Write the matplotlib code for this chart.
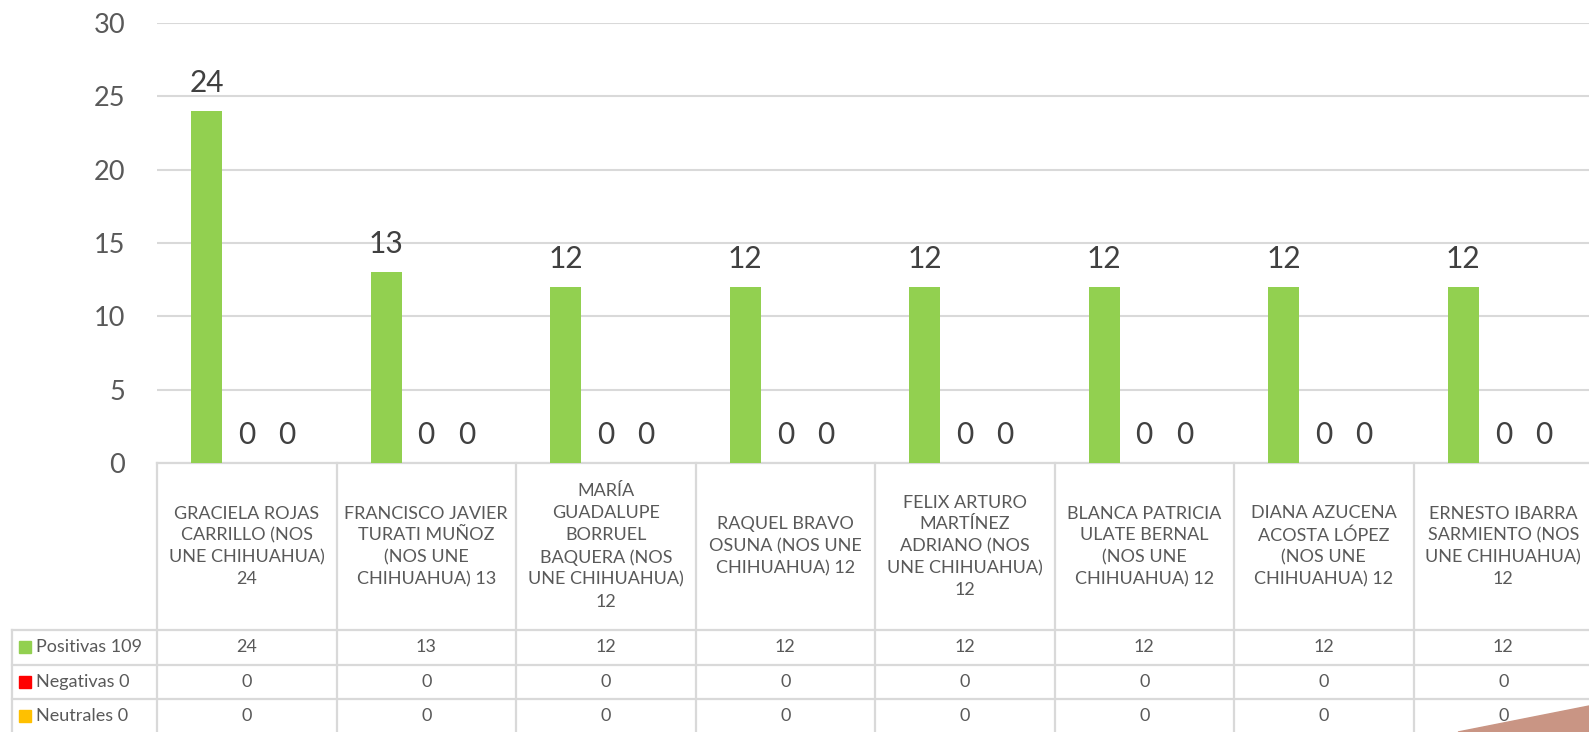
import matplotlib
matplotlib.use('Agg')
import matplotlib.pyplot as plt
from matplotlib.transforms import blended_transform_factory
from matplotlib.patches import Polygon, Rectangle

plt.rcParams['font.family'] = ['Lato', 'DejaVu Sans']

categorias = [
    'GRACIELA ROJAS\nCARRILLO (NOS\nUNE CHIHUAHUA)\n24',
    'FRANCISCO JAVIER\nTURATI MUÑOZ\n(NOS UNE\nCHIHUAHUA) 13',
    'MARÍA\nGUADALUPE\nBORRUEL\nBAQUERA (NOS\nUNE CHIHUAHUA)\n12',
    'RAQUEL BRAVO\nOSUNA (NOS UNE\nCHIHUAHUA) 12',
    'FELIX ARTURO\nMARTÍNEZ\nADRIANO (NOS\nUNE CHIHUAHUA)\n12',
    'BLANCA PATRICIA\nULATE BERNAL\n(NOS UNE\nCHIHUAHUA) 12',
    'DIANA AZUCENA\nACOSTA LÓPEZ\n(NOS UNE\nCHIHUAHUA) 12',
    'ERNESTO IBARRA\nSARMIENTO (NOS\nUNE CHIHUAHUA)\n12',
]
nombres_series = ['Positivas 109', 'Negativas 0', 'Neutrales 0']
positivas = [24, 13, 12, 12, 12, 12, 12, 12]
negativas = [0, 0, 0, 0, 0, 0, 0, 0]
neutrales = [0, 0, 0, 0, 0, 0, 0, 0]
colores = ['#92D050', '#FF0000', '#FFC000']

W, H = 1589, 732
GRIS = '#595959'
BORDE = '#D9D9D9'


def fy(py):
    # pixel row (from top) -> figure fraction
    return 1 - py / H


fig = plt.figure(figsize=(W / 100, H / 100), dpi=100)
ax = fig.add_axes([157 / W, fy(463), (1593 - 157) / W, (463 - 23) / H])
ax.set_xlim(-0.5, len(categorias) - 0.5)
ax.set_ylim(0, 30)

series = [positivas, negativas, neutrales]
desplaz = [-0.223, 0, 0.223]
ancho = 0.173
xs = list(range(len(categorias)))
for vals, dx, col in zip(series, desplaz, colores):
    ax.bar([x + dx for x in xs], vals, width=ancho, color=col, zorder=2)
    for x, v in zip(xs, vals):
        ax.annotate(str(v), (x + dx, v), xytext=(0, 14), textcoords='offset points',
                    ha='center', va='baseline', fontsize=21.5, color='#404040')

ax.set_yticks(range(0, 31, 5))
ax.tick_params(axis='y', length=0, pad=23, labelsize=19.5, labelcolor=GRIS)
ax.set_xticks([])
ax.grid(axis='y', color=BORDE, lw=1.5)
ax.set_axisbelow(True)
for s in ax.spines.values():
    s.set_visible(False)

# data table under the chart
tr = blended_transform_factory(ax.transData, fig.transFigure)
izq = -0.5 - (157 - 12) / 179.5
der = len(categorias) - 0.5
filas = [463, 630, 664.5, 699, 733.5]
kw = dict(transform=tr, color=BORDE, lw=1.6, clip_on=False, zorder=1)
ax.plot([-0.5, der], [fy(filas[0])] * 2, **kw)
for py in filas[1:]:
    ax.plot([izq, der], [fy(py)] * 2, **kw)
ax.plot([izq, izq], [fy(filas[1]), fy(filas[-1])], **kw)
for i in range(len(categorias) + 1):
    ax.plot([i - 0.5] * 2, [fy(filas[0]), fy(filas[-1])], **kw)

for x, cat in zip(xs, categorias):
    ax.text(x, fy((filas[0] + filas[1]) / 2), cat, transform=tr, ha='center', va='center',
            fontsize=13, color=GRIS, linespacing=1.45, multialignment='center')

for j, (nombre, vals, col) in enumerate(zip(nombres_series, series, colores)):
    yc = (filas[j + 1] + filas[j + 2]) / 2
    for x, v in zip(xs, vals):
        ax.text(x, fy(yc), str(v), transform=tr, ha='center', va='center',
                fontsize=13, color=GRIS)
    fig.add_artist(Rectangle((19 / W, fy(yc + 6)), 12 / W, 12 / H,
                             transform=fig.transFigure, color=col))
    fig.text(36 / W, fy(yc), nombre, ha='left', va='center', fontsize=13, color=GRIS)

# slide decoration in the lower right corner
fig.add_artist(Polygon([[1458 / W, 0], [1, fy(706)], [1, 0]],
                       transform=fig.transFigure, color='#C99584', zorder=5))

fig.savefig('out.png', dpi=100)
